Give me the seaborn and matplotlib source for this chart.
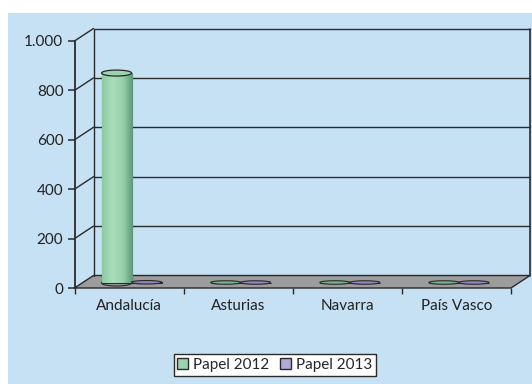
import numpy as np
import pandas as pd
import matplotlib
matplotlib.use("Agg")
import matplotlib.pyplot as plt
import seaborn as sns
from matplotlib.patches import Polygon, Ellipse, Rectangle, Patch
from matplotlib.transforms import ScaledTranslation
from matplotlib.colors import LinearSegmentedColormap
from matplotlib.ticker import FuncFormatter

sns.set_style("white")
plt.rcParams['font.family'] = ['Lato', 'DejaVu Sans']

regiones = ['Andalucía', 'Asturias', 'Navarra', 'País Vasco']
papel_2012 = [850, 2, 2, 2]
papel_2013 = [3, 2, 2, 2]
series = ['Papel 2012', 'Papel 2013']
y_ticks = [0, 200, 400, 600, 800, 1000]

verde = '#9AD3AE'
morado = '#B3A8D8'
fondo = '#C6E0F4'
gris_suelo = '#9C9C9C'
linea = '#2A2A2A'

df = pd.DataFrame({
    'region': regiones * 2,
    'valor': papel_2012 + papel_2013,
    'serie': [series[0]] * 4 + [series[1]] * 4,
})

fig = plt.figure(figsize=(5.32, 3.84), dpi=100)
fig.patch.set_facecolor('white')
fig.patches.append(Rectangle((8 / 532, 0), 1, (384 - 13) / 384, transform=fig.transFigure,
                             facecolor=fondo, edgecolor='none', zorder=-10))

W, H = 532, 384
left, right, bottom, top = 74.5, 511, 288, 41
ax = fig.add_axes([left / W, (H - bottom) / H, (right - left) / W, (bottom - top) / H])
ax.patch.set_visible(False)

# profundidad del efecto 3D en fraccion de ejes
dx = 19 / (right - left)
dy = 12.5 / (bottom - top)
ta = ax.transAxes

# suelo
ax.add_patch(Polygon([(0, 0), (1, 0), (1 + dx, dy), (dx, dy)], closed=True, transform=ta,
                     facecolor=gris_suelo, edgecolor=linea, lw=1.0, clip_on=False, zorder=1))
# pared del fondo y rejilla
for v in y_ticks[1:]:
    f = v / 1000
    ax.plot([dx, 1 + dx], [f + dy, f + dy], color=linea, lw=1.0, transform=ta, clip_on=False, zorder=1)
    ax.plot([0, dx], [f, f + dy], color=linea, lw=1.0, transform=ta, clip_on=False, zorder=1)
ax.plot([dx, dx], [dy, 1 + dy], color=linea, lw=1.0, transform=ta, clip_on=False, zorder=1)
ax.plot([1 + dx, 1 + dx], [dy, 1 + dy], color=linea, lw=1.2, transform=ta, clip_on=False, zorder=1)

sns.barplot(data=df, x='region', y='valor', hue='serie', palette=[verde, morado],
            width=0.55, dodge=True, ax=ax, legend=False, errorbar=None, saturation=1,
            edgecolor=linea, linewidth=0.8, zorder=3)

ax.set_xlim(-0.5, 3.5)
ax.set_ylim(0, 1000)

off = ScaledTranslation(0.025, 0.05, fig.dpi_scale_trans)
cm_verde = LinearSegmentedColormap.from_list('v', ['#8CCAA3', '#A8DEBB', '#98D2AD', '#5F9A78'])
cm_morado = LinearSegmentedColormap.from_list('m', ['#A598CF', '#BEB3E0', '#AFA3D6', '#7A6BA8'])
grad = np.linspace(0, 1, 64).reshape(1, -1)
px = 1000 / (bottom - top)

barras = [p for p in ax.patches if isinstance(p, Rectangle) and p.get_width() > 0]
for i, p in enumerate(barras):
    p.set_transform(ax.transData + off)
    x0, w, h = p.get_x(), p.get_width(), p.get_height()
    cmap = cm_verde if i < len(regiones) else cm_morado
    col = p.get_facecolor()
    if h > 20:
        im = ax.imshow(grad, extent=[x0, x0 + w, 0, h], cmap=cmap, aspect='auto',
                       transform=ax.transData + off, zorder=3.5)
        im.set_clip_path(p)
        ax.add_patch(Ellipse((x0 + w / 2, 0), w, 6 * px, transform=ax.transData + off,
                             facecolor='none', edgecolor=linea, lw=0.8, zorder=3.4))
        ax.add_patch(Ellipse((x0 + w / 2, h), w, 6 * px, transform=ax.transData + off,
                             facecolor=col, edgecolor=linea, lw=0.9, zorder=4))
    else:
        ax.add_patch(Ellipse((x0 + w / 2, h), w, 3.5 * px, transform=ax.transData + off,
                             facecolor=cmap(0.85), edgecolor=linea, lw=0.8, zorder=4))

ax.set_xlim(-0.5, 3.5)
ax.set_ylim(0, 1000)

for s in ['top', 'right', 'bottom']:
    ax.spines[s].set_visible(False)
ax.spines['left'].set_color(linea)
ax.spines['left'].set_linewidth(1.3)

ax.set_yticks(y_ticks)
ax.yaxis.set_major_formatter(FuncFormatter(lambda v, _: f"{int(v):,}".replace(',', '.')))
ax.tick_params(axis='y', direction='out', length=5, width=1.1, color=linea,
               labelsize=11, labelcolor='#222222', pad=3, left=True)

ax.set_xticks(range(4))
ax.set_xticklabels(regiones)
ax.set_xticks([-0.5, 0.5, 1.5, 2.5, 3.5], minor=True)
ax.tick_params(axis='x', which='major', length=0, labelsize=11, labelcolor='#222222', pad=8)
ax.tick_params(axis='x', which='minor', direction='out', length=4, width=1.0, color=linea, bottom=True)
ax.set_xlabel('')
ax.set_ylabel('')

handles = [Patch(facecolor=verde, edgecolor=linea, lw=1.0),
           Patch(facecolor=morado, edgecolor=linea, lw=1.0)]
leg = fig.legend(handles, series, loc='center', bbox_to_anchor=(275 / W, (H - 365) / H),
                 ncol=2, fontsize=11, frameon=True, fancybox=False, framealpha=1,
                 edgecolor=linea, handlelength=0.7, handleheight=0.7, handletextpad=0.35,
                 columnspacing=0.7, borderpad=0.25, borderaxespad=0)
leg.get_frame().set_linewidth(1.0)

fig.savefig('out.png', dpi=100, facecolor=fig.get_facecolor())
